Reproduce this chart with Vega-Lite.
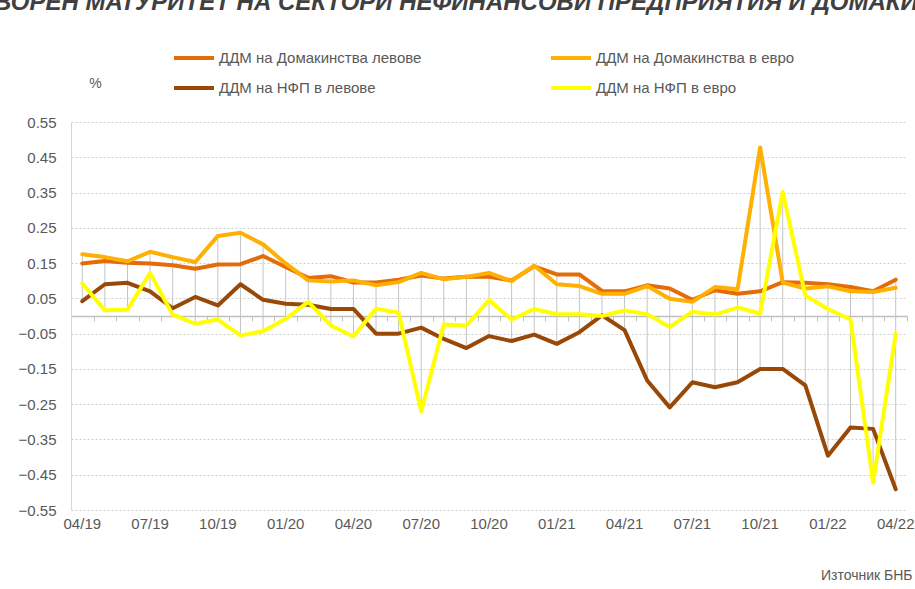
{
  "$schema": "https://vega.github.io/schema/vega-lite/v6.json",
  "autosize": "none",
  "width": 836,
  "height": 388,
  "padding": {"left": 71, "top": 122, "right": 8, "bottom": 79},
  "background": "white",
  "title": {
    "text": "ДОГОВОРЕН МАТУРИТЕТ НА СЕКТОРИ НЕФИНАНСОВИ ПРЕДПРИЯТИЯ И ДОМАКИНСТВА",
    "anchor": "start",
    "frame": "group",
    "font": "Liberation Sans",
    "fontSize": 24,
    "fontWeight": "bold",
    "fontStyle": "italic",
    "color": "#404040",
    "offset": 0,
    "dx": -146,
    "dy": -21
  },
  "config": {
    "font": "Liberation Sans",
    "view": {"stroke": null}
  },
  "data": {
    "values": [
      {"m": "04/19", "ДДМ на Домакинства левове": 0.149, "ДДМ на Домакинства в евро": 0.175, "ДДМ на НФП  в левове": 0.042, "ДДМ на НФП  в евро": 0.092},
      {"m": "05/19", "ДДМ на Домакинства левове": 0.156, "ДДМ на Домакинства в евро": 0.167, "ДДМ на НФП  в левове": 0.090, "ДДМ на НФП  в евро": 0.016},
      {"m": "06/19", "ДДМ на Домакинства левове": 0.151, "ДДМ на Домакинства в евро": 0.155, "ДДМ на НФП  в левове": 0.094, "ДДМ на НФП  в евро": 0.018},
      {"m": "07/19", "ДДМ на Домакинства левове": 0.149, "ДДМ на Домакинства в евро": 0.182, "ДДМ на НФП  в левове": 0.070, "ДДМ на НФП  в евро": 0.122},
      {"m": "08/19", "ДДМ на Домакинства левове": 0.144, "ДДМ на Домакинства в евро": 0.167, "ДДМ на НФП  в левове": 0.022, "ДДМ на НФП  в евро": 0.004},
      {"m": "09/19", "ДДМ на Домакинства левове": 0.134, "ДДМ на Домакинства в евро": 0.153, "ДДМ на НФП  в левове": 0.054, "ДДМ на НФП  в евро": -0.022},
      {"m": "10/19", "ДДМ на Домакинства левове": 0.146, "ДДМ на Домакинства в евро": 0.227, "ДДМ на НФП  в левове": 0.030, "ДДМ на НФП  в евро": -0.010},
      {"m": "11/19", "ДДМ на Домакинства левове": 0.147, "ДДМ на Домакинства в евро": 0.236, "ДДМ на НФП  в левове": 0.090, "ДДМ на НФП  в евро": -0.055},
      {"m": "12/19", "ДДМ на Домакинства левове": 0.170, "ДДМ на Домакинства в евро": 0.203, "ДДМ на НФП  в левове": 0.046, "ДДМ на НФП  в евро": -0.043},
      {"m": "01/20", "ДДМ на Домакинства левове": 0.139, "ДДМ на Домакинства в евро": 0.149, "ДДМ на НФП  в левове": 0.035, "ДДМ на НФП  в евро": -0.008},
      {"m": "02/20", "ДДМ на Домакинства левове": 0.108, "ДДМ на Домакинства в евро": 0.101, "ДДМ на НФП  в левове": 0.032, "ДДМ на НФП  в евро": 0.040},
      {"m": "03/20", "ДДМ на Домакинства левове": 0.113, "ДДМ на Домакинства в евро": 0.098, "ДДМ на НФП  в левове": 0.020, "ДДМ на НФП  в евро": -0.027},
      {"m": "04/20", "ДДМ на Домакинства левове": 0.095, "ДДМ на Домакинства в евро": 0.101, "ДДМ на НФП  в левове": 0.020, "ДДМ на НФП  в евро": -0.058},
      {"m": "05/20", "ДДМ на Домакинства левове": 0.095, "ДДМ на Домакинства в евро": 0.087, "ДДМ на НФП  в левове": -0.050, "ДДМ на НФП  в евро": 0.021},
      {"m": "06/20", "ДДМ на Домакинства левове": 0.103, "ДДМ на Домакинства в евро": 0.096, "ДДМ на НФП  в левове": -0.050, "ДДМ на НФП  в евро": 0.009},
      {"m": "07/20", "ДДМ на Домакинства левове": 0.115, "ДДМ на Домакинства в евро": 0.122, "ДДМ на НФП  в левове": -0.033, "ДДМ на НФП  в евро": -0.270},
      {"m": "08/20", "ДДМ на Домакинства левове": 0.106, "ДДМ на Домакинства в евро": 0.104, "ДДМ на НФП  в левове": -0.065, "ДДМ на НФП  в евро": -0.024},
      {"m": "09/20", "ДДМ на Домакинства левове": 0.111, "ДДМ на Домакинства в евро": 0.111, "ДДМ на НФП  в левове": -0.091, "ДДМ на НФП  в евро": -0.027},
      {"m": "10/20", "ДДМ на Домакинства левове": 0.111, "ДДМ на Домакинства в евро": 0.122, "ДДМ на НФП  в левове": -0.057, "ДДМ на НФП  в евро": 0.045},
      {"m": "11/20", "ДДМ на Домакинства левове": 0.101, "ДДМ на Домакинства в евро": 0.099, "ДДМ на НФП  в левове": -0.071, "ДДМ на НФП  в евро": -0.010},
      {"m": "12/20", "ДДМ на Домакинства левове": 0.141, "ДДМ на Домакинства в евро": 0.143, "ДДМ на НФП  в левове": -0.053, "ДДМ на НФП  в евро": 0.020},
      {"m": "01/21", "ДДМ на Домакинства левове": 0.118, "ДДМ на Домакинства в евро": 0.090, "ДДМ на НФП  в левове": -0.079, "ДДМ на НФП  в евро": 0.005},
      {"m": "02/21", "ДДМ на Домакинства левове": 0.118, "ДДМ на Домакинства в евро": 0.085, "ДДМ на НФП  в левове": -0.046, "ДДМ на НФП  в евро": 0.005},
      {"m": "03/21", "ДДМ на Домакинства левове": 0.071, "ДДМ на Домакинства в евро": 0.063, "ДДМ на НФП  в левове": 0.002, "ДДМ на НФП  в евро": 0.000},
      {"m": "04/21", "ДДМ на Домакинства левове": 0.070, "ДДМ на Домакинства в евро": 0.063, "ДДМ на НФП  в левове": -0.040, "ДДМ на НФП  в евро": 0.016},
      {"m": "05/21", "ДДМ на Домакинства левове": 0.087, "ДДМ на Домакинства в евро": 0.085, "ДДМ на НФП  в левове": -0.183, "ДДМ на НФП  в евро": 0.005},
      {"m": "06/21", "ДДМ на Домакинства левове": 0.078, "ДДМ на Домакинства в евро": 0.049, "ДДМ на НФП  в левове": -0.259, "ДДМ на НФП  в евро": -0.031},
      {"m": "07/21", "ДДМ на Домакинства левове": 0.046, "ДДМ на Домакинства в евро": 0.040, "ДДМ на НФП  в левове": -0.188, "ДДМ на НФП  в евро": 0.012},
      {"m": "08/21", "ДДМ на Домакинства левове": 0.073, "ДДМ на Домакинства в евро": 0.082, "ДДМ на НФП  в левове": -0.202, "ДДМ на НФП  в евро": 0.004},
      {"m": "09/21", "ДДМ на Домакинства левове": 0.063, "ДДМ на Домакинства в евро": 0.076, "ДДМ на НФП  в левове": -0.188, "ДДМ на НФП  в евро": 0.024},
      {"m": "10/21", "ДДМ на Домакинства левове": 0.070, "ДДМ на Домакинства в евро": 0.478, "ДДМ на НФП  в левове": -0.150, "ДДМ на НФП  в евро": 0.007},
      {"m": "11/21", "ДДМ на Домакинства левове": 0.096, "ДДМ на Домакинства в евро": 0.095, "ДДМ на НФП  в левове": -0.150, "ДДМ на НФП  в евро": 0.352},
      {"m": "12/21", "ДДМ на Домакинства левове": 0.094, "ДДМ на Домакинства в евро": 0.078, "ДДМ на НФП  в левове": -0.197, "ДДМ на НФП  в евро": 0.058},
      {"m": "01/22", "ДДМ на Домакинства левове": 0.090, "ДДМ на Домакинства в евро": 0.084, "ДДМ на НФП  в левове": -0.396, "ДДМ на НФП  в евро": 0.020},
      {"m": "02/22", "ДДМ на Домакинства левове": 0.082, "ДДМ на Домакинства в евро": 0.070, "ДДМ на НФП  в левове": -0.316, "ДДМ на НФП  в евро": -0.010},
      {"m": "03/22", "ДДМ на Домакинства левове": 0.070, "ДДМ на Домакинства в евро": 0.068, "ДДМ на НФП  в левове": -0.320, "ДДМ на НФП  в евро": -0.472},
      {"m": "04/22", "ДДМ на Домакинства левове": 0.103, "ДДМ на Домакинства в евро": 0.080, "ДДМ на НФП  в левове": -0.491, "ДДМ на НФП  в евро": -0.050}
    ]
  },
  "transform": [
    {"fold": ["ДДМ на Домакинства левове", "ДДМ на Домакинства в евро", "ДДМ на НФП  в левове", "ДДМ на НФП  в евро"], "as": ["s", "v"]}
  ],
  "layer": [
    {
      "mark": {"type": "rule", "color": "#C4C4C4", "strokeWidth": 1},
      "encoding": {
        "x": {
          "field": "m", "type": "ordinal", "sort": null, "bandPosition": 0.5,
          "scale": {"type": "band", "paddingInner": 0, "paddingOuter": 0,
            "domain": ["04/19","05/19","06/19","07/19","08/19","09/19","10/19","11/19","12/19","01/20","02/20","03/20","04/20","05/20","06/20","07/20","08/20","09/20","10/20","11/20","12/20","01/21","02/21","03/21","04/21","05/21","06/21","07/21","08/21","09/21","10/21","11/21","12/21","01/22","02/22","03/22","04/22"]},
          "axis": {
            "orient": "bottom", "offset": -194, "labels": false, "grid": false,
            "domain": true, "domainColor": "#BFBFBF", "domainWidth": 1.5,
            "ticks": true, "tickBand": "extent", "tickColor": "#BFBFBF", "tickSize": 5, "tickWidth": 1,
            "title": null
          }
        },
        "y": {
          "aggregate": "max", "field": "v", "type": "quantitative",
          "scale": {"domain": [-0.55, 0.55], "nice": false, "zero": false},
          "axis": {
            "values": [-0.55, -0.45, -0.35, -0.25, -0.15, -0.05, 0.05, 0.15, 0.25, 0.35, 0.45, 0.55],
            "format": ".2f", "labelOverlap": false, "tickCount": 12,
            "domain": true, "domainColor": "#C6D9F1", "domainWidth": 1,
            "ticks": false, "labelPadding": 15,
            "grid": true, "gridColor": "#D0D0D0", "gridDash": [2, 2], "gridWidth": 1,
            "labelFont": "Liberation Sans", "labelFontSize": 15, "labelColor": "#595959",
            "title": "%", "titleAngle": 0, "titleX": 24, "titleY": -39,
            "titleAlign": "center", "titleBaseline": "middle",
            "titleFont": "Liberation Sans", "titleFontSize": 14, "titleFontWeight": "normal", "titleColor": "#595959"
          }
        },
        "y2": {"aggregate": "min", "field": "v"}
      }
    },
    {
      "mark": {"type": "line", "strokeWidth": 4, "strokeJoin": "round", "strokeCap": "round"},
      "encoding": {
        "x": {
          "field": "m", "type": "ordinal", "sort": null, "bandPosition": 0.5,
          "scale": {"type": "band", "paddingInner": 0, "paddingOuter": 0},
          "axis": {
            "orient": "bottom",
            "values": ["04/19","07/19","10/19","01/20","04/20","07/20","10/20","01/21","04/21","07/21","10/21","01/22","04/22"],
            "labelOverlap": false,
            "domain": false, "ticks": false, "grid": false,
            "labelAngle": 0, "labelPadding": 6,
            "labelFont": "Liberation Sans", "labelFontSize": 15, "labelColor": "#595959",
            "title": "Източник БНБ", "titleX": 841, "titleY": 65,
            "titleAlign": "right", "titleBaseline": "middle",
            "titleFont": "Liberation Sans", "titleFontSize": 14, "titleFontWeight": "normal", "titleColor": "#595959"
          }
        },
        "y": {
          "field": "v", "type": "quantitative",
          "scale": {"domain": [-0.55, 0.55], "nice": false, "zero": false},
          "axis": {
            "values": [-0.55, -0.45, -0.35, -0.25, -0.15, -0.05, 0.05, 0.15, 0.25, 0.35, 0.45, 0.55],
            "format": ".2f", "labelOverlap": false, "tickCount": 12,
            "domain": true, "domainColor": "#C6D9F1", "domainWidth": 1,
            "ticks": false, "labelPadding": 15,
            "grid": true, "gridColor": "#D0D0D0", "gridDash": [2, 2], "gridWidth": 1,
            "labelFont": "Liberation Sans", "labelFontSize": 15, "labelColor": "#595959",
            "title": "%", "titleAngle": 0, "titleX": 24, "titleY": -39,
            "titleAlign": "center", "titleBaseline": "middle",
            "titleFont": "Liberation Sans", "titleFontSize": 14, "titleFontWeight": "normal", "titleColor": "#595959"
          }
        },
        "color": {
          "field": "s", "type": "nominal",
          "scale": {
            "domain": ["ДДМ на Домакинства левове", "ДДМ на НФП  в левове", "ДДМ на Домакинства в евро", "ДДМ на НФП  в евро"],
            "range": ["#E36C09", "#984807", "#FFB000", "#FFFF00"]
          },
          "legend": {
            "orient": "none", "legendX": 101, "legendY": -86,
            "columns": 2, "columnPadding": 121, "rowPadding": 0, "padding": 0,
            "symbolType": "stroke", "symbolSize": 1600, "symbolStrokeWidth": 4,
            "labelFont": "Liberation Sans", "labelFontSize": 15, "labelColor": "#595959",
            "labelOffset": 3, "labelLimit": 400, "title": null
          }
        }
      }
    }
  ],
  "resolve": {"axis": {"x": "independent"}}
}
